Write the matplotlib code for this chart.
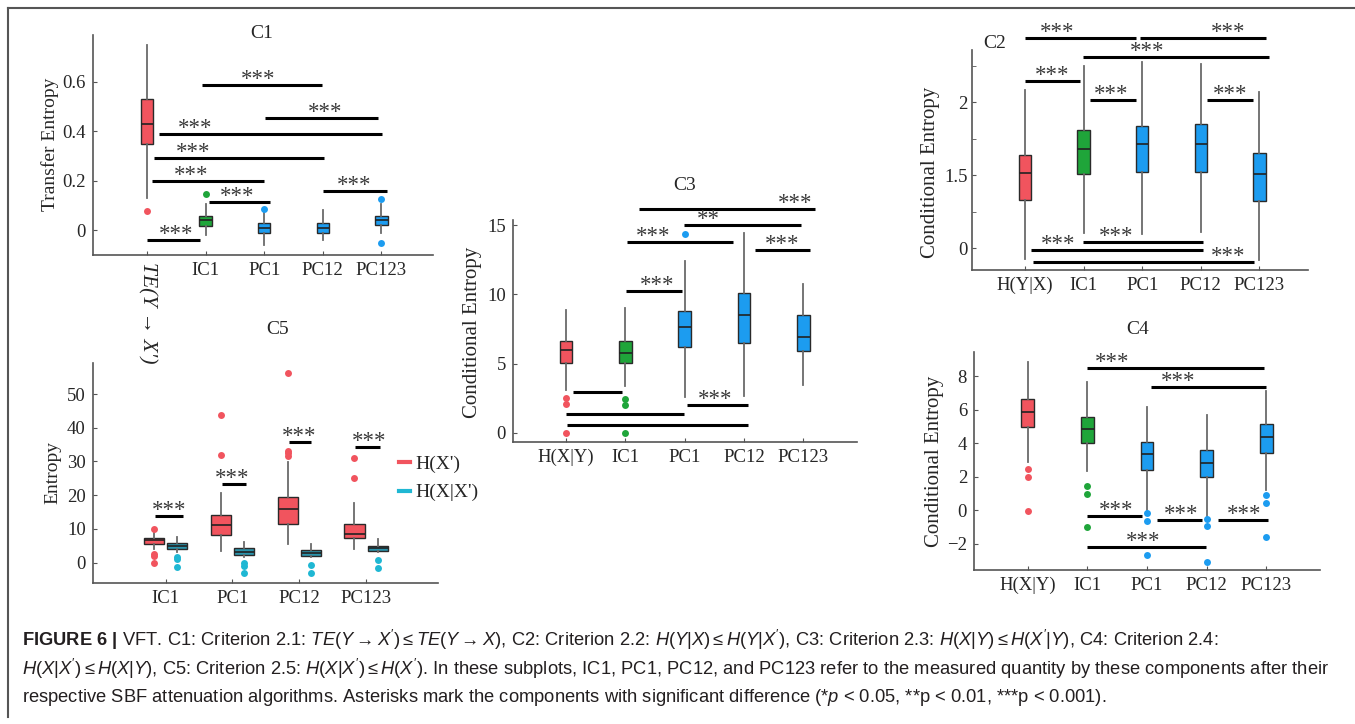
import matplotlib
matplotlib.use('Agg')
import matplotlib.pyplot as plt
from matplotlib import font_manager
from matplotlib.lines import Line2D

W, H = 1355, 724

# 数据: 每个子图的箱线统计量 (q1, median, q3, 须线下限, 须线上限, 离群点)
C1_labels = ['TE(Y → X′)', 'IC1', 'PC1', 'PC12', 'PC123']
C1_q1 = [0.35, 0.015, -0.01, -0.013, 0.02]
C1_med = [0.43, 0.04, 0.01, 0.007, 0.04]
C1_q3 = [0.53, 0.057, 0.03, 0.027, 0.057]
C1_lo = [0.13, -0.02, -0.06, -0.04, -0.012]
C1_hi = [0.75, 0.105, 0.073, 0.08, 0.105]
C1_out = [[0.078], [0.145], [0.085], [], [0.124, -0.054]]
# (x1, x2, y, 星号, 星号位置)
C1_sig = [(1.0, 1.9, -0.04, '***', 1.49), (1.94, 3.98, 0.587, '***', 2.89),
          (3.01, 4.94, 0.452, '***', 4.04), (1.2, 5.01, 0.39, '***', 1.82),
          (1.12, 4.02, 0.29, '***', 1.78), (1.08, 3.0, 0.20, '***', 1.75),
          (2.06, 3.1, 0.115, '***', 2.54), (4.0, 5.09, 0.16, '***', 4.53)]

C2_labels = ['H(Y|X)', 'IC1', 'PC1', 'PC12', 'PC123']
C2_q1 = [1.328, 1.509, 1.525, 1.52, 1.323]
C2_med = [1.515, 1.68, 1.712, 1.712, 1.511]
C2_q3 = [1.641, 1.813, 1.841, 1.85, 1.653]
C2_lo = [0.924, 1.103, 1.099, 1.11, 0.92]
C2_hi = [2.084, 2.249, 2.276, 2.267, 2.07]
C2_out = [[], [], [], [], []]
C2_yticks = [1.0, 1.5, 2.0]
C2_yticklabels = ['0', '1.5', '2']
C2_sig = [(1.0, 2.89, 2.439, '***', 1.54), (2.97, 5.12, 2.439, '***', 4.47),
          (1.995, 5.17, 2.313, '***', 3.08), (1.0, 1.94, 2.146, '***', 1.46),
          (2.11, 2.89, 2.015, '***', 2.47), (4.10, 4.89, 2.015, '***', 4.5),
          (1.99, 4.04, 1.041, '***', 2.56), (1.11, 4.03, 0.984, '***', 1.57),
          (1.14, 4.91, 0.904, '***', 4.47)]

C3_labels = ['H(X|Y)', 'IC1', 'PC1', 'PC12', 'PC123']
C3_q1 = [5.01, 5.01, 6.17, 6.46, 5.93]
C3_med = [5.98, 5.78, 7.66, 8.53, 6.94]
C3_q3 = [6.65, 6.6, 8.77, 10.07, 8.5]
C3_lo = [3.1, 3.37, 2.55, 2.65, 3.45]
C3_hi = [8.87, 8.99, 12.43, 14.46, 10.75]
C3_out = [[2.48, 2.07, 0.0], [2.46, 1.98, 0.0], [14.36], [], []]
C3_sig = [(2.23, 5.19, 16.17, '***', 4.86), (2.995, 4.96, 15.01, '**', 3.40),
          (2.02, 3.82, 13.76, '***', 2.47), (4.18, 5.11, 13.2, '***', 4.64),
          (2.01, 2.96, 10.24, '***', 2.54), (1.12, 1.94, 2.92, '', 0),
          (3.04, 4.06, 2.0, '***', 3.52), (1.0, 2.98, 1.35, '', 0),
          (1.01, 4.06, 0.55, '', 0)]

C4_labels = ['H(X|Y)', 'IC1', 'PC1', 'PC12', 'PC123']
C4_q1 = [5.0, 4.0, 2.41, 1.97, 3.45]
C4_med = [5.9, 4.84, 3.37, 2.81, 4.36]
C4_q3 = [6.63, 5.56, 4.08, 3.59, 5.14]
C4_lo = [2.9, 2.35, 0.0, -0.45, 1.2]
C4_hi = [8.88, 7.69, 6.16, 5.7, 7.15]
C4_out = [[2.45, 1.99, -0.04], [1.47, 0.98, -1.02], [-0.14, -0.62, -2.67],
          [-0.54, -0.92, -3.07], [0.92, 0.46, -1.61]]
C4_sig = [(1.99, 4.96, 8.49, '***', 2.42), (3.06, 4.99, 7.35, '***', 3.52),
          (2.0, 2.92, -0.32, '***', 2.49), (3.16, 3.92, -0.58, '***', 3.57),
          (4.19, 5.03, -0.58, '***', 4.62), (2.0, 3.99, -2.17, '***', 2.93)]

C5_groups = ['IC1', 'PC1', 'PC12', 'PC123']
C5_series = ["H(X')", "H(X|X')"]
C5a_q1 = [5.4, 8.2, 11.5, 7.2]
C5a_med = [6.7, 11.2, 15.8, 8.4]
C5a_q3 = [7.4, 14.0, 19.4, 11.5]
C5a_lo = [4.2, 3.6, 5.5, 4.2]
C5a_hi = [8.7, 20.8, 29.7, 17.8]
C5a_out = [[9.9, 2.6, 2.0, 0.0], [43.8, 31.9], [56.1, 33.2, 32.4, 31.7], [31.1, 25.2]]
C5b_q1 = [3.95, 2.3, 2.0, 3.6]
C5b_med = [4.9, 3.3, 2.8, 4.4]
C5b_q3 = [5.7, 4.25, 3.75, 5.0]
C5b_lo = [3.3, 1.8, 1.6, 3.1]
C5b_hi = [7.7, 6.0, 5.5, 7.0]
C5b_out = [[1.6, 1.0, -1.2], [-0.2, -1.0, -3.0], [-0.7, -3.2], [0.8, -1.7]]
C5_sig = [(0.84, 1.26, 13.9, '***', 1.05), (1.84, 2.2, 23.2, '***', 2.0),
          (2.84, 3.18, 35.9, '***', 3.0), (3.83, 4.21, 34.3, '***', 4.04)]

RED = '#F1545E'
GREEN = '#1FA53A'
BLUE = '#1C9CF0'
TEAL = '#2A93AB'
CYAN = '#1FB7D3'
TXT = '#262626'

names = {f.name for f in font_manager.fontManager.ttflist}
narrow = 'Liberation Sans Narrow' in names
cap_font = 'Liberation Sans Narrow' if narrow else 'Liberation Sans'

plt.rcParams['font.family'] = ['Liberation Serif', 'DejaVu Serif']
plt.rcParams['mathtext.fontset'] = 'custom'
plt.rcParams['mathtext.rm'] = cap_font
plt.rcParams['mathtext.it'] = cap_font + ':italic'
plt.rcParams['mathtext.bf'] = cap_font + ':bold'

fig = plt.figure(figsize=(W / 100, H / 100), dpi=100)


def add_ax(l, t, r, b):
    # 像素坐标 -> figure 坐标
    return fig.add_axes([l / W, 1 - b / H, (r - l) / W, (b - t) / H])


def px_text(x, y, s, **kw):
    kw.setdefault('ha', 'center')
    kw.setdefault('va', 'center')
    kw.setdefault('color', TXT)
    return fig.text(x / W, 1 - y / H, s, **kw)


def style(ax, xlim, ylim):
    for s in ['top', 'right']:
        ax.spines[s].set_visible(False)
    for s in ['left', 'bottom']:
        ax.spines[s].set_color('#555555')
        ax.spines[s].set_linewidth(1.2)
    ax.tick_params(which='both', direction='in', length=3, color='#555555',
                   labelsize=13.5, labelcolor=TXT, pad=5)
    ax.set_xlim(xlim)
    ax.set_ylim(ylim)
    ax.patch.set_alpha(0)


def draw_boxes(ax, pos, q1, med, q3, lo, hi, out, colors, fcolors, width=0.21):
    stats = [dict(q1=a, med=m, q3=b, whislo=l, whishi=h, fliers=f)
             for a, m, b, l, h, f in zip(q1, med, q3, lo, hi, out)]
    bp = ax.bxp(stats, positions=pos, widths=width, patch_artist=True,
                showcaps=False, manage_ticks=False,
                boxprops=dict(edgecolor='#2a2a2a', linewidth=1.0),
                whiskerprops=dict(color='#6a6a6a', linewidth=1.3),
                medianprops=dict(color='#222222', linewidth=1.2),
                flierprops=dict(marker='o', markersize=5, markeredgewidth=0))
    for patch, c in zip(bp['boxes'], colors):
        patch.set_facecolor(c)
    for fl, c in zip(bp['fliers'], fcolors):
        fl.set_markerfacecolor(c)


def draw_sig(ax, sig):
    for x1, x2, y, s, tx in sig:
        ax.plot([x1, x2], [y, y], color='black', lw=2.2,
                solid_capstyle='butt', clip_on=False)
        if s:
            ax.text(tx, y, s, ha='center', va='baseline', fontsize=16.5,
                    color='#3a3a3a', clip_on=False)


pos5 = [1, 2, 3, 4, 5]
col5 = [RED, GREEN, BLUE, BLUE, BLUE]

# C1
ax1 = add_ax(93, 35, 433, 255)
draw_boxes(ax1, pos5, C1_q1, C1_med, C1_q3, C1_lo, C1_hi, C1_out, col5, col5)
style(ax1, (0.08, 5.88), (-0.101, 0.79))
ax1.set_yticks([0, 0.2, 0.4, 0.6])
ax1.set_yticklabels(['0', '0.2', '0.4', '0.6'])
ax1.set_xticks(pos5)
ax1.set_xticklabels(C1_labels)
lab0 = ax1.get_xticklabels()[0]
lab0.set_rotation(-90)
lab0.set_fontstyle('italic')
lab0.set_fontsize(15.5)
draw_sig(ax1, C1_sig)
px_text(262, 33, 'C1', fontsize=14)
px_text(50, 144, 'Transfer Entropy', fontsize=14, rotation=90)

# C2
ax2 = add_ax(971.7, 50, 1308, 270)
draw_boxes(ax2, pos5, C2_q1, C2_med, C2_q3, C2_lo, C2_hi, C2_out, col5, col5)
style(ax2, (0.09, 5.83), (0.85, 2.36))
ax2.set_yticks(C2_yticks)
ax2.set_yticklabels(C2_yticklabels)
ax2.set_yticks([1.25, 1.75, 2.25], minor=True)
ax2.tick_params(axis='y', pad=3)
ax2.set_xticks(pos5)
ax2.set_xticklabels(C2_labels)
draw_sig(ax2, C2_sig)
px_text(995, 43, 'C2', fontsize=14)
px_text(931, 172, 'Conditional Entropy', fontsize=15, rotation=90)

# C3
ax3 = add_ax(512.7, 220, 856.7, 441.7)
draw_boxes(ax3, pos5, C3_q1, C3_med, C3_q3, C3_lo, C3_hi, C3_out, col5, col5)
style(ax3, (0.10, 5.90), (-0.65, 15.38))
ax3.set_yticks([0, 5, 10, 15])
ax3.set_xticks(pos5)
ax3.set_xticklabels(C3_labels)
draw_sig(ax3, C3_sig)
px_text(685, 185, 'C3', fontsize=14)
px_text(473, 332, 'Conditional Entropy', fontsize=15, rotation=90)

# C4
ax4 = add_ax(974, 351.7, 1320, 570)
draw_boxes(ax4, pos5, C4_q1, C4_med, C4_q3, C4_lo, C4_hi, C4_out, col5, col5)
style(ax4, (0.10, 5.90), (-3.57, 9.48))
ax4.set_yticks([-2, 0, 2, 4, 6, 8])
ax4.set_xticks(pos5)
ax4.set_xticklabels(C4_labels)
draw_sig(ax4, C4_sig)
px_text(1138, 330, 'C4', fontsize=14)
px_text(935, 461, 'Conditional Entropy', fontsize=15, rotation=90)

# C5
ax5 = add_ax(92.7, 363.3, 438.3, 582.7)
g = [1, 2, 3, 4]
draw_boxes(ax5, [p - 0.174 for p in g], C5a_q1, C5a_med, C5a_q3, C5a_lo, C5a_hi,
           C5a_out, [RED] * 4, [RED] * 4, width=0.3)
draw_boxes(ax5, [p + 0.174 for p in g], C5b_q1, C5b_med, C5b_q3, C5b_lo, C5b_hi,
           C5b_out, [TEAL] * 4, [CYAN] * 4, width=0.3)
style(ax5, (-0.09, 5.08), (-5.93, 59.1))
ax5.set_yticks([0, 10, 20, 30, 40, 50])
ax5.set_xticks(g)
ax5.set_xticklabels(C5_groups)
draw_sig(ax5, C5_sig)
handles = [Line2D([], [], color=RED, lw=3), Line2D([], [], color=CYAN, lw=3)]
ax5.legend(handles, C5_series, loc='upper left', bbox_to_anchor=(0.885, 0.58),
           frameon=False, handlelength=0.6, handletextpad=0.25, labelspacing=0.55,
           fontsize=14, borderaxespad=0, borderpad=0, labelcolor=TXT)
px_text(278, 329, 'C5', fontsize=14)
px_text(53, 472, 'Entropy', fontsize=14, rotation=90)

# 外框 (上边和左边)
fig.add_artist(Line2D([8 / W, 1], [1 - 8 / H, 1 - 8 / H], transform=fig.transFigure,
                      color='#555555', lw=1.5))
fig.add_artist(Line2D([8 / W, 8 / W], [1 - 8 / H, 1 - 717 / H], transform=fig.transFigure,
                      color='#555555', lw=1.5))

# 图注
cap1 = (r"$\mathbf{FIGURE\ 6\ |}$ VFT. C1: Criterion 2.1: $TE(Y \rightarrow X') \leq TE(Y \rightarrow X)$, "
        r"C2: Criterion 2.2: $H(Y|X) \leq H(Y|X')$, C3: Criterion 2.3: $H(X|Y) \leq H(X'|Y)$, C4: Criterion 2.4:")
cap2 = (r"$H(X|X') \leq H(X|Y)$, C5: Criterion 2.5: $H(X|X') \leq H(X')$. In these subplots, IC1, PC1, PC12, "
        r"and PC123 refer to the measured quantity by these components after their")
cap3 = (r"respective SBF attenuation algorithms. Asterisks mark the components with significant "
        r"difference (*$p$ < 0.05, **p < 0.01, ***p < 0.001).")
cap_size = 15.5 if narrow else 13.2
for y, s in zip([640, 669, 698], [cap1, cap2, cap3]):
    px_text(22, y, s, ha='left', fontsize=cap_size, family=cap_font, color='#231F20')

fig.savefig('out.png', dpi=100)
